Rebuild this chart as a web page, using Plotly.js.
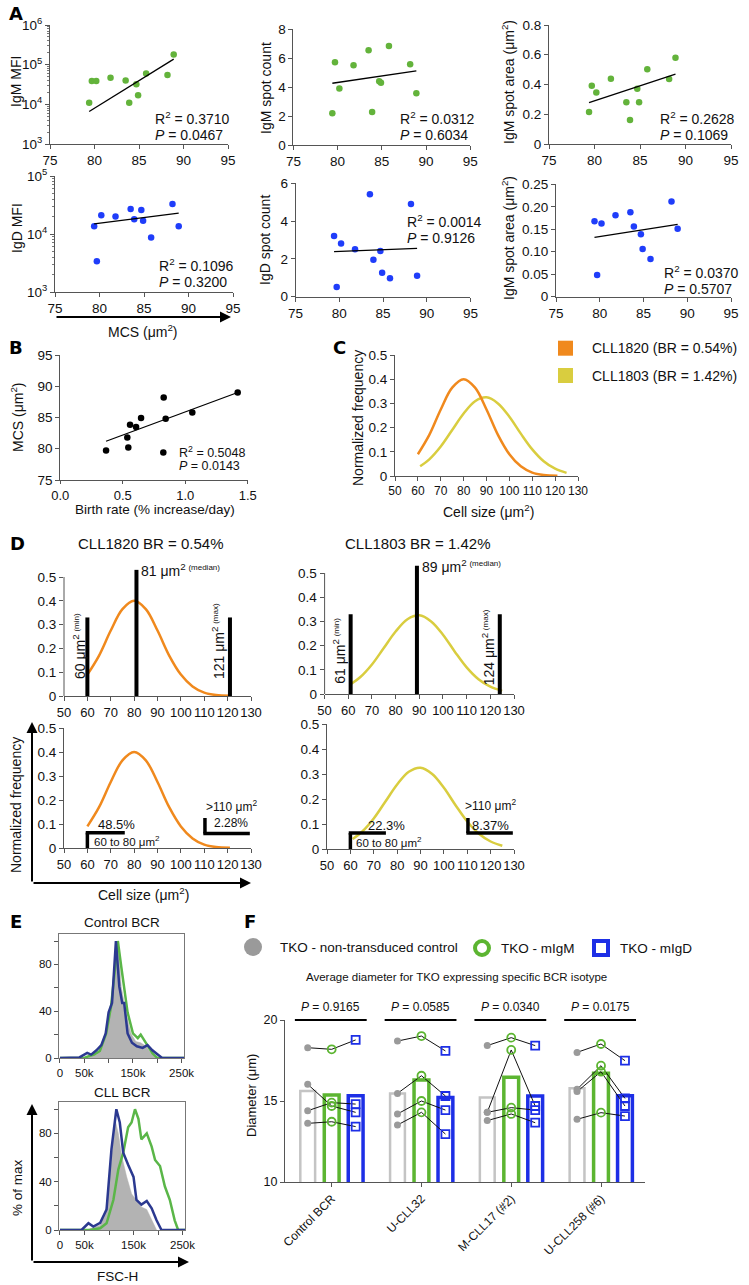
<!DOCTYPE html>
<html><head><meta charset="utf-8">
<script src="https://cdn.plot.ly/plotly-3.0.1.min.js"></script>
<style>html,body{margin:0;padding:0;background:#fff}#chart{width:749px;height:1285px}</style>
</head><body><div id="chart"></div>
<script>
// ---------------- DATA ----------------
// Panel A (x = mean cell size, MCS, um^2)
const mcs = [79.4, 79.7, 80.2, 81.8, 83.5, 83.9, 84.7, 84.9, 85.8, 88.2, 88.9];
const igmMFI = [1.1e4, 3.9e4, 3.9e4, 4.7e4, 4.0e4, 1.1e4, 3.2e4, 1.7e4, 6.0e4, 5.5e4, 1.8e5];
const igmCount = [2.19, 5.72, 3.90, 5.51, 6.55, 2.28, 4.40, 4.31, 6.85, 5.58, 3.57];
const igmArea = [0.215, 0.392, 0.347, 0.439, 0.280, 0.161, 0.372, 0.280, 0.502, 0.437, 0.580];
const igdMFI = [1.36e4, 3.4e3, 2.1e4, 2.0e4, 2.7e4, 1.8e4, 2.6e4, 1.7e4, 8.7e3, 3.3e4, 1.36e4];
const igdCount = [3.21, 0.51, 2.82, 2.51, 5.42, 1.96, 2.42, 1.27, 0.97, 4.90, 1.11];
const igdArea = [0.168, 0.048, 0.163, 0.181, 0.188, 0.156, 0.139, 0.106, 0.084, 0.212, 0.151];
const fitX = [79.4, 88.9];
const fitIgmMFI = [6.6e3, 1.38e5];
const fitIgmCount = [4.27, 5.12];
const fitIgmArea = [0.278, 0.469];
const fitIgdMFI = [1.5e4, 2.3e4];
const fitIgdCount = [2.38, 2.56];
const fitIgdArea = [0.132, 0.161];
const statR2 = ['0.3710', '0.0312', '0.2628', '0.1096', '0.0014', '0.0370'];
const statP = ['0.0467', '0.6034', '0.1069', '0.3200', '0.9126', '0.5707'];
const aXTicks = [75, 80, 85, 90, 95];

// Panel B
const birthRate = [0.366, 0.536, 0.544, 0.558, 0.606, 0.646, 0.827, 0.843, 0.824, 1.056, 1.419];
const mcsB = [79.7, 81.8, 80.2, 83.85, 83.5, 84.9, 88.2, 84.8, 79.4, 85.8, 89.0];
const fitBx = [0.366, 1.419];
const fitBy = [81.2, 89.0];
const statB = ['0.5048', '0.0143'];

// Panel C / D size distributions
const sizeOrange = [60, 65, 70, 75, 80, 85, 90, 95, 100, 105, 110, 115, 121];
const freqOrange = [0.09, 0.17, 0.275, 0.365, 0.40, 0.365, 0.275, 0.17, 0.09, 0.04, 0.014, 0.004, 0.001];
const sizeYellow = [61, 65, 70, 75, 80, 85, 90, 95, 100, 105, 110, 115, 120, 125];
const freqYellow = [0.04, 0.069, 0.122, 0.19, 0.258, 0.309, 0.325, 0.30, 0.245, 0.175, 0.11, 0.061, 0.03, 0.013];
const legendC = ['CLL1820 (BR = 0.54%)', 'CLL1803 (BR = 1.42%)'];
const sizeTicks = [50, 60, 70, 80, 90, 100, 110, 120, 130];
const freqTicks = [0, 0.1, 0.2, 0.3, 0.4, 0.5];
const dBarX1820 = [60, 81, 121], dBarTop1820 = [0.33, 0.53, 0.33];
const dBarX1803 = [61, 89, 124], dBarTop1803 = [0.33, 0.53, 0.33];
const dPct1820 = ['48.5%', '2.28%'];
const dPct1803 = ['22.3%', '8.37%'];

// Panel E histograms (x in thousands FSC-H, y = % of max)
const eCtrlGrayX = [54, 75, 92, 102, 109, 115, 119, 126, 136, 146, 156, 166, 177, 187, 197];
const eCtrlGrayY = [0, 3, 16, 38, 61, 96, 100, 61, 38, 21, 14, 13, 10, 4, 0];
const eCtrlGreenX = [0, 50, 58, 70, 82, 95, 105, 112, 119, 126, 132, 139, 150, 160, 166, 177, 183, 190, 200, 256];
const eCtrlGreenY = [0, 0, 1.4, 3, 6, 21, 44, 73, 100, 78, 61, 39, 21, 17, 20, 13, 9, 4, 0, 0];
const eCtrlBlueX = [0, 40, 56, 64, 75, 85, 94, 100, 107, 115, 122, 128, 132, 139, 148, 158, 170, 180, 190, 204, 210, 256];
const eCtrlBlueY = [0, 0.5, 4.3, 2.9, 6.6, 11, 21, 39, 47, 100, 61, 47, 47, 21, 13, 10, 8.6, 11, 6.6, 1.4, 0, 0];
const eCllGrayX = [54, 82, 95, 105, 112, 119, 126, 136, 146, 156, 166, 177, 187, 197];
const eCllGrayY = [0, 4, 19, 58, 92, 80, 61, 44, 30, 24, 19, 17, 8, 0];
const eCllGreenX = [0, 61, 82, 95, 109, 119, 129, 139, 146, 153, 160, 166, 177, 187, 194, 204, 214, 224, 234, 241, 256];
const eCllGreenY = [0, 0, 1.4, 5.6, 25, 50, 64, 85, 89, 100, 92, 75, 80, 69, 58, 53, 36, 25, 8, 0, 0];
const eCllBlueX = [0, 44, 58, 68, 82, 95, 105, 115, 122, 129, 139, 150, 156, 166, 177, 187, 197, 207, 256];
const eCllBlueY = [0, 0, 5.6, 2.8, 6, 17, 67, 100, 89, 64, 54, 44, 25, 21, 24, 18, 8, 0, 0];

// Panel F (cell diameter, um) – 4 replicate rows per construct
const fCats = ['Control BCR', 'U-CLL32', 'M-CLL17 (#2)', 'U-CLL258 (#6)'];
const fCtrl = [[18.29, 16.03, 14.40, 13.62], [18.70, 15.47, 14.20, 13.52], [18.42, 14.30, 14.30, 13.79], [18.00, 15.72, 15.58, 13.87]];
const fIgM = [[18.19, 14.69, 14.90, 13.72], [19.01, 16.56, 15.00, 14.30], [18.91, 18.15, 14.59, 14.20], [18.52, 17.18, 16.81, 14.28]];
const fIgD = [[18.77, 14.30, 14.81, 13.42], [18.09, 15.31, 14.44, 12.96], [18.42, 14.69, 14.44, 13.66], [17.49, 15.16, 14.69, 14.07]];
const fBarCtrl = [15.62, 15.47, 15.21, 15.78];
const fBarIgM = [15.37, 16.30, 16.46, 16.71];
const fBarIgD = [15.33, 15.21, 15.31, 15.33];
const fP = ['0.9165', '0.0585', '0.0340', '0.0175'];
const fLegend = ['TKO - non-transduced control', 'TKO - mIgM', 'TKO - mIgD'];

// ---------------- HELPERS ----------------
const W = 749, H = 1285;
const FONT = '"Liberation Sans", Arial, Helvetica, sans-serif';
const px = x => x / W, py = y => 1 - y / H;
const xd = (a, b) => [a / W, b / W], yd = (t, b) => [1 - b / H, 1 - t / H];
const GREEN = '#63b33b', BLUE = '#1f3dfa', ORANGE = '#f0891d', YELLOW = '#d9cd3f';
const FGRAY = '#9a9a9a', FGREEN = '#5cb531', FBLUE = '#1d2fe6', NAVY = '#2b3990', EGREEN = '#5ab648';

const traces = [];
const layout = {
  width: W, height: H, margin: {l: 0, r: 0, t: 0, b: 0},
  paper_bgcolor: '#fff', plot_bgcolor: 'rgba(0,0,0,0)', showlegend: false,
  font: {family: FONT, color: '#111'}, annotations: [], shapes: []
};
function axisBase(o) {
  return Object.assign({showgrid: false, zeroline: false, showline: true, linecolor: '#555', linewidth: 1,
    ticks: 'outside', ticklen: 4, tickwidth: 1, tickcolor: '#555', tickangle: 0,
    tickfont: {family: FONT, size: 13.5, color: '#111'}, fixedrange: true}, o);
}
function addAxes(i, xo, yo) {
  layout['xaxis' + i] = axisBase(Object.assign({anchor: 'y' + i}, xo));
  layout['yaxis' + i] = axisBase(Object.assign({anchor: 'x' + i}, yo));
}
function ann(text, x, y, size, o) {
  layout.annotations.push(Object.assign({text: text, xref: 'paper', yref: 'paper', x: px(x), y: py(y),
    showarrow: false, font: {family: FONT, size: size, color: '#111'}, xanchor: 'center', yanchor: 'middle'}, o || {}));
}
function dann(text, ax, x, y, size, o) {
  layout.annotations.push(Object.assign({text: text, xref: 'x' + ax, yref: 'y' + ax, x: x, y: y,
    showarrow: false, font: {family: FONT, size: size, color: '#111'}, xanchor: 'center', yanchor: 'middle'}, o || {}));
}
function arrow(x0, y0, x1, y1) {
  layout.annotations.push({xref: 'paper', yref: 'paper', x: px(x1), y: py(y1), ax: x0 - x1, ay: y0 - y1,
    showarrow: true, arrowhead: 2, arrowsize: 1.1, arrowwidth: 2, arrowcolor: '#000', text: '', standoff: 0, startstandoff: 0});
}
function letter(t, x, y) { ann('<b>' + t + '</b>', x, y, 19, {font: {family: '"DejaVu Sans", Arial, sans-serif', size: 18, color: '#000'}}); }
function tickTxt(v) { return v.map(String); }

// ---------------- PANEL A ----------------
const aPanels = [
  {i: 1, y: igmMFI, fit: fitIgmMFI, c: GREEN, xdom: [50, 228], ydom: [25, 144], yr: [3, 6], log: true, title: 'IgM MFI', tpos: [16, 82], st: [153, 118]},
  {i: 2, y: igmCount, fit: fitIgmCount, c: GREEN, xdom: [293.4, 470.3], ydom: [29.3, 145], yr: [0, 8], tv: [0, 2, 4, 6, 8], title: 'IgM spot count', tpos: [266, 88], st: [398, 118]},
  {i: 3, y: igmArea, fit: fitIgmArea, c: GREEN, xdom: [549, 731], ydom: [25, 144], yr: [0, 0.8], tv: [0, 0.2, 0.4, 0.6, 0.8], tt: ['0', '0.2', '0.4', '0.6', '0.8'], title: 'IgM spot area (μm<sup>2</sup>)', tpos: [508, 82], st: [658, 118]},
  {i: 4, y: igdMFI, fit: fitIgdMFI, c: BLUE, xdom: [55, 233], ydom: [176, 292], yr: [3, 5], log: true, title: 'IgD MFI', tpos: [17, 228], st: [157, 265]},
  {i: 5, y: igdCount, fit: fitIgdCount, c: BLUE, xdom: [295.6, 470.4], ydom: [183.3, 296.7], yr: [0, 6], tv: [0, 2, 4, 6], title: 'IgD spot count', tpos: [265, 240], st: [405, 221]},
  {i: 6, y: igdArea, fit: fitIgdArea, c: BLUE, xdom: [556, 731], ydom: [184.3, 296.7], yr: [0, 0.25], tv: [0, 0.05, 0.10, 0.15, 0.20, 0.25], tt: ['0', '0.05', '0.10', '0.15', '0.20', '0.25'], title: 'IgM spot area (μm<sup>2</sup>)', tpos: [508, 238], st: [662, 272]}
];
aPanels.forEach((p, k) => {
  const yo = {domain: yd(p.ydom[0], p.ydom[1]), range: p.yr};
  if (p.log) {
    const dec = []; for (let e = p.yr[0]; e <= p.yr[1]; e++) dec.push(Math.pow(10, e));
    const minor = []; for (let e = p.yr[0]; e < p.yr[1]; e++) for (let m = 2; m <= 9; m++) minor.push(m * Math.pow(10, e));
    Object.assign(yo, {type: 'log', tickmode: 'array', tickvals: dec, ticktext: dec.map(v => '10<sup>' + Math.round(Math.log10(v)) + '</sup>'),
      minor: {tickmode: 'array', tickvals: minor, ticks: 'outside', ticklen: 2, tickcolor: '#777'}});
  } else {
    Object.assign(yo, {tickmode: 'array', tickvals: p.tv, ticktext: p.tt || tickTxt(p.tv)});
  }
  addAxes(p.i, {domain: xd(p.xdom[0], p.xdom[1]), range: [75, 95], tickmode: 'array', tickvals: aXTicks, ticktext: tickTxt(aXTicks)}, yo);
  traces.push({type: 'scatter', mode: 'markers', x: mcs, y: p.y, xaxis: 'x' + p.i, yaxis: 'y' + p.i, marker: {size: 6.5, color: p.c}, cliponaxis: false, hoverinfo: 'skip'});
  traces.push({type: 'scatter', mode: 'lines', x: fitX, y: p.fit, xaxis: 'x' + p.i, yaxis: 'y' + p.i, line: {color: '#000', width: 1.3}, hoverinfo: 'skip'});
  ann(p.title, p.tpos[0], p.tpos[1], 14, {textangle: -90});
  ann('R<sup>2</sup> = ' + statR2[k], p.st[0], p.st[1], 14, {xanchor: 'left'});
  ann('<i>P</i> = ' + statP[k], p.st[0], p.st[1] + 17, 14, {xanchor: 'left'});
});
letter('A', 16, 14);
arrow(55, 317, 231, 317);
ann('MCS (μm<sup>2</sup>)', 143, 331, 14);

// ---------------- PANEL B ----------------
addAxes(7, {domain: xd(60.3, 247.8), range: [0, 1.5], tickmode: 'array', tickvals: [0, 0.5, 1.0, 1.5], ticktext: ['0.0', '0.5', '1.0', '1.5'], ticklen: 3, tickfont: {family: FONT, size: 13, color: '#111'}},
  {domain: yd(355, 480), range: [75, 95], tickmode: 'array', tickvals: [75, 80, 85, 90, 95], ticktext: ['75', '80', '85', '90', '95']});
traces.push({type: 'scatter', mode: 'markers', x: birthRate, y: mcsB, xaxis: 'x7', yaxis: 'y7', marker: {size: 6.5, color: '#000'}, cliponaxis: false, hoverinfo: 'skip'});
traces.push({type: 'scatter', mode: 'lines', x: fitBx, y: fitBy, xaxis: 'x7', yaxis: 'y7', line: {color: '#000', width: 1.3}, hoverinfo: 'skip'});
letter('B', 16, 348);
ann('MCS (μm<sup>2</sup>)', 17, 417, 14, {textangle: -90});
ann('Birth rate (% increase/day)', 155, 510, 13.5);
ann('R<sup>2</sup> = ' + statB[0], 177, 452, 12.5, {xanchor: 'left'});
ann('<i>P</i> = ' + statB[1], 177, 466, 12.5, {xanchor: 'left'});

// ---------------- PANEL C ----------------
const freqTT = freqTicks.map(v => v === 0 ? '0' : v.toFixed(1));
addAxes(8, {domain: xd(395, 578), range: [50, 130], tickmode: 'array', tickvals: sizeTicks, ticktext: tickTxt(sizeTicks), tickfont: {family: FONT, size: 12, color: '#111'}},
  {domain: yd(355, 476), range: [0, 0.5], tickmode: 'array', tickvals: freqTicks, ticktext: freqTT});
traces.push({type: 'scatter', mode: 'lines', x: sizeYellow, y: freqYellow, xaxis: 'x8', yaxis: 'y8', line: {color: YELLOW, width: 2.5, shape: 'spline', smoothing: 1}, hoverinfo: 'skip'});
traces.push({type: 'scatter', mode: 'lines', x: sizeOrange, y: freqOrange, xaxis: 'x8', yaxis: 'y8', line: {color: ORANGE, width: 2.5, shape: 'spline', smoothing: 1}, hoverinfo: 'skip'});
letter('C', 339, 348);
ann('Normalized frequency', 358, 418, 14, {textangle: -90});
ann('Cell size (μm<sup>2</sup>)', 488, 511, 14);
layout.shapes.push({type: 'rect', xref: 'paper', yref: 'paper', x0: px(558), x1: px(573), y0: py(355.7), y1: py(340.7), fillcolor: ORANGE, line: {width: 0}});
layout.shapes.push({type: 'rect', xref: 'paper', yref: 'paper', x0: px(558), x1: px(573), y0: py(383), y1: py(368), fillcolor: YELLOW, line: {width: 0}});
ann(legendC[0], 590, 348, 14, {xanchor: 'left'});
ann(legendC[1], 590, 376, 14, {xanchor: 'left'});

// ---------------- PANEL D ----------------
const dSpec = [
  {i: 9, xdom: [64, 251], ydom: [565.1, 696], yr: [0, 0.55], top: true},
  {i: 10, xdom: [324.6, 514], ydom: [560.9, 694], yr: [0, 0.55], top: true},
  {i: 11, xdom: [64, 251], ydom: [728, 848], yr: [0, 0.5]},
  {i: 12, xdom: [327, 514], ydom: [724, 849], yr: [0, 0.5]}
];
dSpec.forEach(s => {
  addAxes(s.i, {domain: xd(s.xdom[0], s.xdom[1]), range: [50, 130], tickmode: 'array', tickvals: sizeTicks, ticktext: tickTxt(sizeTicks), tickfont: {family: FONT, size: 13, color: '#111'}},
    {domain: yd(s.ydom[0], s.ydom[1]), range: s.yr, tickmode: 'array', tickvals: freqTicks, ticktext: freqTT, showline: !s.top, tickfont: {family: FONT, size: 13.5, color: '#111'}});
  if (s.top) layout.shapes.push({type: 'line', xref: 'paper', yref: 'y' + s.i, x0: px(s.xdom[0]), x1: px(s.xdom[0]), y0: 0, y1: 0.5, line: {color: '#555', width: 1}});
});
[[9, sizeOrange, freqOrange, ORANGE], [11, sizeOrange, freqOrange, ORANGE], [10, sizeYellow, freqYellow, YELLOW], [12, sizeYellow, freqYellow, YELLOW]].forEach(d => {
  traces.push({type: 'scatter', mode: 'lines', x: d[1], y: d[2], xaxis: 'x' + d[0], yaxis: 'y' + d[0], line: {color: d[3], width: 2.5, shape: 'spline', smoothing: 1}, hoverinfo: 'skip'});
});
function barTrace(ax, xs, tops) {
  const x = [], y = [];
  xs.forEach((v, k) => { x.push(v, v, null); y.push(0, tops[k], null); });
  traces.push({type: 'scatter', mode: 'lines', x: x, y: y, xaxis: 'x' + ax, yaxis: 'y' + ax, line: {color: '#000', width: 4}, hoverinfo: 'skip'});
}
barTrace(9, dBarX1820, dBarTop1820);
barTrace(10, dBarX1803, dBarTop1803);
letter('D', 17, 543);
ann('CLL1820 BR = 0.54%', 151, 543, 15);
ann('CLL1803 BR = 1.42%', 418, 543, 15);
const smallSup = t => '<span style="font-size:8px">' + t + '</span>';
dann(dBarX1820[1] + ' μm<sup>2 ' + smallSup('(median)') + '</sup>', 9, dBarX1820[1] + 1.2, dBarTop1820[1], 14, {xanchor: 'left', yanchor: 'middle'});
dann(dBarX1803[1] + ' μm<sup>2 ' + smallSup('(median)') + '</sup>', 10, dBarX1803[1] + 1.2, dBarTop1803[1], 14, {xanchor: 'left', yanchor: 'middle'});
dann(dBarX1820[0] + ' μm<sup>2 ' + smallSup('(min)') + '</sup>', 9, dBarX1820[0] - 3.6, 0.21, 14, {textangle: -90});
dann(dBarX1820[2] + ' μm<sup>2 ' + smallSup('(max)') + '</sup>', 9, dBarX1820[2] - 4.8, 0.23, 14, {textangle: -90});
dann(dBarX1803[0] + ' μm<sup>2 ' + smallSup('(min)') + '</sup>', 10, dBarX1803[0] - 4.8, 0.18, 14, {textangle: -90});
dann(dBarX1803[2] + ' μm<sup>2 ' + smallSup('(max)') + '</sup>', 10, dBarX1803[2] - 5.2, 0.195, 14, {textangle: -90});
// gated ranges (bottom row)
function bracket(ax, xv, y0, y1, x1) {
  layout.shapes.push({type: 'line', xref: 'x' + ax, yref: 'y' + ax, x0: xv, x1: xv, y0: y0, y1: y1, line: {color: '#000', width: 3.5}});
  layout.shapes.push({type: 'line', xref: 'x' + ax, yref: 'y' + ax, x0: xv - 0.7, x1: x1, y0: y1 > 0.1 ? y0 : y1, y1: y1 > 0.1 ? y0 : y1, line: {color: '#000', width: 3.5}});
}
bracket(11, 60, 0, 0.064, 76);
bracket(11, 110.3, 0.06, 0.125, 129.5);
bracket(12, 60, 0, 0.064, 75.2);
bracket(12, 110.3, 0.064, 0.124, 129.5);
dann(dPct1820[0], 11, 72.6, 0.097, 13);
dann('60 to 80 μm<sup>2</sup>', 11, 62, 0.03, 11.5, {xanchor: 'left'});
dann('>110 μm<sup>2</sup>', 11, 110, 0.175, 12, {xanchor: 'left'});
dann(dPct1820[1], 11, 113.5, 0.105, 12, {xanchor: 'left'});
dann(dPct1803[0], 12, 75.6, 0.095, 13);
dann('60 to 80 μm<sup>2</sup>', 12, 61.5, 0.03, 11.5, {xanchor: 'left'});
dann('>110 μm<sup>2</sup>', 12, 108, 0.176, 12, {xanchor: 'left'});
dann(dPct1803[1], 12, 111, 0.095, 13, {xanchor: 'left'});
arrow(32, 883, 32, 722);
arrow(32, 883, 251, 883);
ann('Normalized frequency', 16, 805, 14, {textangle: -90});
ann('Cell size (μm<sup>2</sup>)', 143, 894, 14);

// ---------------- PANEL E ----------------
const eXT = ['0', '50k', '', '150k', '', '250k'];
[[13, 934, 1058, 184], [14, 1102, 1230, 185]].forEach(e => {
  addAxes(e[0], {domain: xd(59, e[3]), range: [-2, 255], tickmode: 'array', tickvals: [0, 50, 100, 150, 200, 250], ticktext: eXT, mirror: true, linecolor: '#777', tickfont: {family: FONT, size: 11.5, color: '#111'}},
    {domain: yd(e[1], e[2]), range: [0, 106], tickmode: 'array', tickvals: [0, 20, 40, 60, 80, 100], ticktext: ['0', '', '40', '', '80', ''], mirror: true, linecolor: '#777', tickfont: {family: FONT, size: 11.5, color: '#111'}});
});
function hist(ax, gx, gy, grx, gry, bx, by) {
  traces.push({type: 'scatter', mode: 'lines', x: gx, y: gy, xaxis: 'x' + ax, yaxis: 'y' + ax, fill: 'tozeroy', fillcolor: '#b3b3b3', line: {color: '#b3b3b3', width: 0.5}, hoverinfo: 'skip'});
  traces.push({type: 'scatter', mode: 'lines', x: grx, y: gry, xaxis: 'x' + ax, yaxis: 'y' + ax, line: {color: EGREEN, width: 2.5}, hoverinfo: 'skip'});
  traces.push({type: 'scatter', mode: 'lines', x: bx, y: by, xaxis: 'x' + ax, yaxis: 'y' + ax, line: {color: NAVY, width: 2.5}, hoverinfo: 'skip'});
}
hist(13, eCtrlGrayX, eCtrlGrayY, eCtrlGreenX, eCtrlGreenY, eCtrlBlueX, eCtrlBlueY);
hist(14, eCllGrayX, eCllGrayY, eCllGreenX, eCllGreenY, eCllBlueX, eCllBlueY);
letter('E', 16, 921);
ann('Control BCR', 122, 922, 13.5);
ann('CLL BCR', 122, 1092, 13.5);
ann('% of max', 17, 1188, 13.5, {textangle: -90});
ann('FSC-H', 117, 1276, 13.5);
arrow(32, 1262, 32, 1104);
arrow(32, 1262, 189, 1262);

// ---------------- PANEL F ----------------
const OFF = [-0.267, 0, 0.267];
const fIdx = fCats.map((c, k) => k);
addAxes(15, {domain: xd(285, 645), range: [-0.52, 3.49], tickmode: 'array', tickvals: fIdx, ticktext: fCats, tickangle: -45, tickfont: {family: FONT, size: 12, color: '#111'}},
  {domain: yd(1020, 1182), range: [10, 20], tickmode: 'array', tickvals: [10, 15, 20], ticktext: ['10', '15', '20'], tickfont: {family: FONT, size: 12.5, color: '#111'}});
[[fBarCtrl, OFF[0], '#c4c4c4', 2.5], [fBarIgM, OFF[1], FGREEN, 3.5], [fBarIgD, OFF[2], FBLUE, 3.5]].forEach(b => {
  traces.push({type: 'bar', x: fIdx.map(k => k + b[1]), y: b[0], width: 0.165, xaxis: 'x15', yaxis: 'y15',
    marker: {color: 'rgba(255,255,255,0)', line: {color: b[2], width: b[3]}}, hoverinfo: 'skip'});
});
const lx = [], ly = [];
fIdx.forEach(g => { for (let r = 0; r < 4; r++) { lx.push(g + OFF[0], g + OFF[1], g + OFF[2], null); ly.push(fCtrl[g][r], fIgM[g][r], fIgD[g][r], null); } });
traces.push({type: 'scatter', mode: 'lines', x: lx, y: ly, xaxis: 'x15', yaxis: 'y15', line: {color: '#111', width: 1}, hoverinfo: 'skip'});
function fPts(arr, off, marker) {
  const x = [], y = [];
  fIdx.forEach(g => arr[g].forEach(v => { x.push(g + off); y.push(v); }));
  traces.push({type: 'scatter', mode: 'markers', x: x, y: y, xaxis: 'x15', yaxis: 'y15', marker: marker, cliponaxis: false, hoverinfo: 'skip'});
}
fPts(fCtrl, OFF[0], {symbol: 'circle', size: 7, color: FGRAY});
fPts(fIgM, OFF[1], {symbol: 'circle-open', size: 8, color: FGREEN, line: {width: 1.8}});
fPts(fIgD, OFF[2], {symbol: 'square-open', size: 8, color: FBLUE, line: {width: 1.8}});
fIdx.forEach(g => {
  layout.shapes.push({type: 'line', xref: 'x15', yref: 'paper', x0: g - 0.41, x1: g + 0.39, y0: py(1020), y1: py(1020), line: {color: '#000', width: 2}});
  dann('<i>P</i> = ' + fP[g], 15, g - 0.01, 20, 12, {yanchor: 'bottom', yshift: 4});
});
letter('F', 250, 921);
layout.shapes.push({type: 'circle', xref: 'paper', yref: 'paper', x0: px(244), x1: px(262), y0: py(956), y1: py(938), fillcolor: FGRAY, line: {width: 0}});
layout.shapes.push({type: 'circle', xref: 'paper', yref: 'paper', x0: px(475), x1: px(489), y0: py(955), y1: py(941), fillcolor: '#fff', line: {color: FGREEN, width: 4}});
layout.shapes.push({type: 'rect', xref: 'paper', yref: 'paper', x0: px(594), x1: px(608), y0: py(955), y1: py(941), fillcolor: '#fff', line: {color: FBLUE, width: 4}});
ann(fLegend[0], 278, 947, 13.5, {xanchor: 'left'});
ann(fLegend[1], 499, 948, 13.5, {xanchor: 'left'});
ann(fLegend[2], 618, 948, 13.5, {xanchor: 'left'});
ann('Average diameter for TKO expressing specific BCR isotype', 456, 977, 11.5);
ann('Diameter (μm)', 251, 1096, 13, {textangle: -90});

Plotly.newPlot('chart', traces, layout, {staticPlot: true, displayModeBar: false});
</script></body></html>
